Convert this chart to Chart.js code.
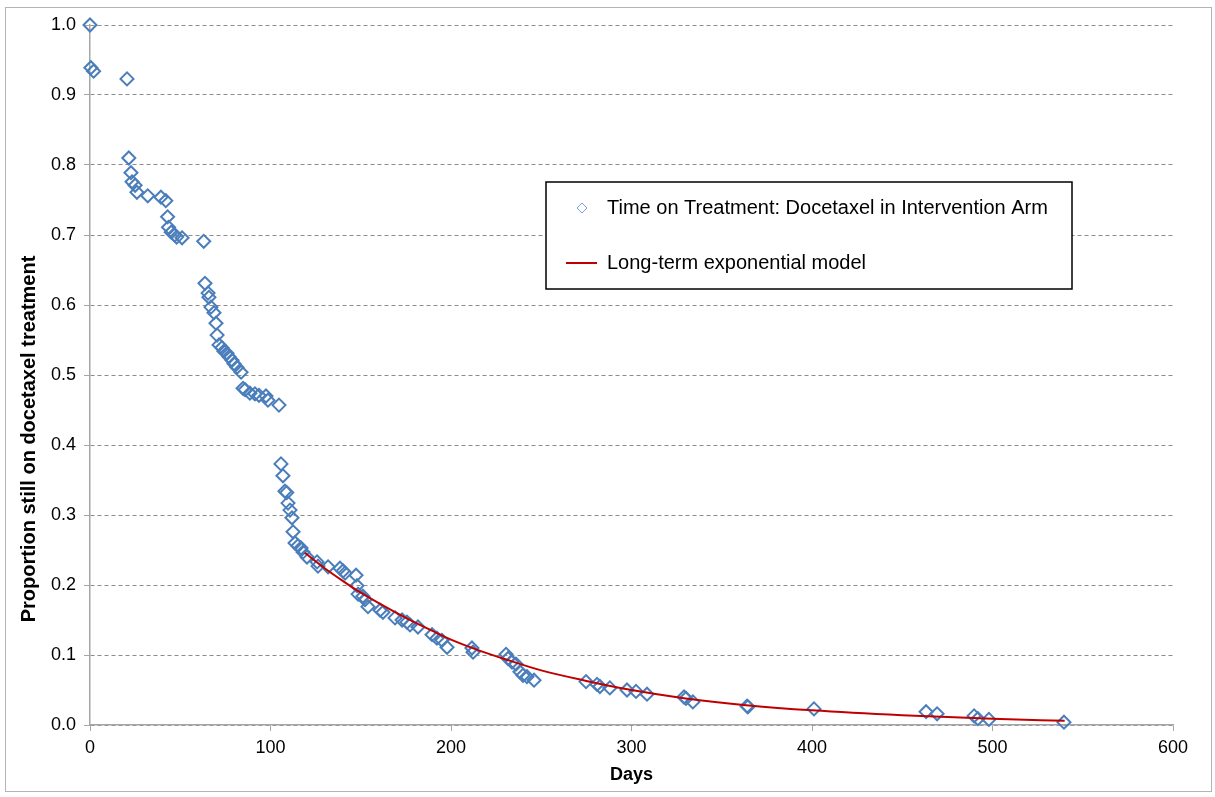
<!DOCTYPE html>
<html>
<head>
<meta charset="utf-8">
<script src="https://cdn.jsdelivr.net/npm/chart.js@4/dist/chart.umd.min.js"></script>
<style>
  html, body { margin: 0; padding: 0; background: #ffffff; }
  #wrap { width: 1215px; height: 797px; }
</style>
</head>
<body>
<div id="wrap"><canvas id="c" width="1215" height="797"></canvas></div>
<script>
// ---- Data ----
const days = [0, 0.5, 2, 20.5, 21.5, 22.7, 23.3, 25, 26, 32, 39.3, 42, 43, 43.5, 45, 47, 48, 51, 63,
  63.7, 65.4, 65.9, 67, 68.7, 69.8, 70.4, 71.5, 73.1, 74.2, 75.9, 77, 78.7, 79.8, 81.4, 83.7,
  84.8, 85.9, 88.6, 91.4, 93.6, 97.5, 98.6, 104.7,
  105.8, 106.9, 108, 109, 109.7, 110.8, 111.9, 112.5, 113.6, 115.2, 116.9, 118, 120.2, 125.8, 126.3,
  131.9, 138.5, 140.2, 141.3, 147.4, 147.9, 148.5, 151.2, 152.4, 154, 160.7, 162.3, 169, 172.9,
  175.6, 177.3, 181.7, 189.5, 192.2, 195, 197.8, 211.6, 212.2,
  230.5, 231.6, 233.8, 236, 238.2, 239.9, 242.1, 246, 274.8, 280.9, 282.5, 288, 297.5, 302.5, 308.6,
  329.1, 330.2, 334, 364, 364.5, 401.1, 463.2, 469.3, 489.8, 491.9, 498, 539.6];
const proportion = [1.000, 0.939, 0.934, 0.923, 0.810, 0.789, 0.776, 0.771, 0.761, 0.756, 0.754, 0.749, 0.726, 0.711, 0.704, 0.700, 0.697, 0.696, 0.691,
  0.631, 0.617, 0.611, 0.597, 0.589, 0.574, 0.557, 0.543, 0.539, 0.534, 0.531, 0.526, 0.521, 0.516, 0.511, 0.504,
  0.481, 0.479, 0.474, 0.473, 0.471, 0.470, 0.464, 0.457,
  0.373, 0.356, 0.334, 0.332, 0.317, 0.307, 0.296, 0.276, 0.260, 0.256, 0.253, 0.247, 0.240, 0.233, 0.227,
  0.226, 0.224, 0.220, 0.217, 0.214, 0.199, 0.187, 0.184, 0.179, 0.169, 0.164, 0.161, 0.153, 0.150,
  0.147, 0.143, 0.140, 0.129, 0.124, 0.121, 0.111, 0.110, 0.104,
  0.101, 0.095, 0.090, 0.087, 0.076, 0.071, 0.069, 0.064, 0.062, 0.058, 0.055, 0.053, 0.050, 0.048, 0.044,
  0.040, 0.038, 0.033, 0.027, 0.026, 0.023, 0.019, 0.016, 0.013, 0.009, 0.008, 0.004];

const modelDays   = [119, 130, 140, 150, 160, 175, 190, 200, 215, 230, 250, 275, 300, 330, 365, 400, 450, 500, 540];
const modelValues = [0.246, 0.224, 0.206, 0.189, 0.174, 0.153, 0.134, 0.122, 0.107, 0.094, 0.078, 0.063, 0.050, 0.038, 0.028, 0.021, 0.014, 0.009, 0.006];

const xTicks = [0, 100, 200, 300, 400, 500, 600];
const yTicks = [0.0, 0.1, 0.2, 0.3, 0.4, 0.5, 0.6, 0.7, 0.8, 0.9, 1.0];

const seriesLabel = 'Time on Treatment: Docetaxel in Intervention Arm';
const modelLabel = 'Long-term exponential model';
const xTitle = 'Days';
const yTitle = 'Proportion still on docetaxel treatment';

const FONT = '"Liberation Sans", Arial, sans-serif';

const framePlugin = {
  id: 'frame',
  beforeDraw(chart) {
    const ctx = chart.ctx;
    ctx.save();
    ctx.fillStyle = '#ffffff';
    ctx.fillRect(0, 0, chart.width, chart.height);
    ctx.strokeStyle = '#b4b4b4';
    ctx.lineWidth = 1;
    ctx.strokeRect(5.5, 7.5, 1206, 784);
    ctx.restore();
  }
};

const yTitlePlugin = {
  id: 'yTitle',
  afterDraw(chart) {
    const ctx = chart.ctx;
    ctx.save();
    ctx.translate(29, 439);
    ctx.rotate(-Math.PI / 2);
    ctx.fillStyle = '#000';
    ctx.font = 'bold 20px ' + FONT;
    ctx.textAlign = 'center';
    ctx.textBaseline = 'middle';
    ctx.fillText(yTitle, 0, 0);
    ctx.restore();
  }
};

const legendPlugin = {
  id: 'boxLegend',
  afterDraw(chart) {
    const ctx = chart.ctx;
    ctx.save();
    const bx = 546, by = 182, bw = 526, bh = 107;
    ctx.fillStyle = '#ffffff';
    ctx.fillRect(bx, by, bw, bh);
    ctx.strokeStyle = '#000000';
    ctx.lineWidth = 1.5;
    ctx.strokeRect(bx, by, bw, bh);
    const ds0 = chart.data.datasets[0];
    const ds1 = chart.data.datasets[1];
    // diamond marker
    ctx.strokeStyle = '#7ea3d4';
    ctx.lineWidth = 1;
    const mx = 582, my = 208, r = 5;
    ctx.beginPath();
    ctx.moveTo(mx - r, my); ctx.lineTo(mx, my - r); ctx.lineTo(mx + r, my); ctx.lineTo(mx, my + r); ctx.closePath();
    ctx.stroke();
    // red line
    ctx.strokeStyle = ds1.borderColor;
    ctx.lineWidth = 2;
    ctx.beginPath();
    ctx.moveTo(566, 263); ctx.lineTo(597, 263);
    ctx.stroke();
    ctx.fillStyle = '#000000';
    ctx.font = '20px ' + FONT;
    ctx.textBaseline = 'middle';
    ctx.fillText(ds0.label, 607, 208);
    ctx.fillText(ds1.label, 607, 263);
    ctx.restore();
  }
};

new Chart(document.getElementById('c'), {
  type: 'scatter',
  data: {
    datasets: [
      {
        label: seriesLabel,
        data: days.map((d, i) => ({ x: d, y: proportion[i] })),
        pointStyle: 'rectRot',
        pointRadius: 6.5,
        pointHoverRadius: 6.5,
        pointBorderWidth: 2,
        borderColor: '#4a7ebb',
        backgroundColor: 'rgba(0,0,0,0)',
        clip: false,
        order: 1
      },
      {
        label: modelLabel,
        data: modelDays.map((d, i) => ({ x: d, y: modelValues[i] })),
        showLine: true,
        pointRadius: 0,
        borderColor: '#c00000',
        borderWidth: 2,
        cubicInterpolationMode: 'monotone',
        backgroundColor: '#c00000',
        order: 0
      }
    ]
  },
  options: {
    responsive: false,
    animation: false,
    devicePixelRatio: 1,
    layout: { padding: { left: 5, right: 42, top: 25, bottom: 0 } },
    plugins: { legend: { display: false }, tooltip: { enabled: false } },
    scales: {
      x: {
        type: 'linear',
        min: 0, max: 600,
        afterBuildTicks: s => { s.ticks = xTicks.map(v => ({ value: v })); },
        afterFit: s => { s.height = 72; },
        ticks: { color: '#000', font: { family: FONT, size: 18 }, padding: 6, maxRotation: 0,
                 callback: v => String(v) },
        grid: { drawOnChartArea: false, drawTicks: true, tickLength: 6, tickColor: '#a6a6a6' },
        border: { display: true, color: '#a6a6a6', width: 1.5 },
        title: { display: true, text: xTitle, color: '#000', font: { family: FONT, size: 18, weight: 'bold' },
                 padding: { top: 2, bottom: 11 } }
      },
      y: {
        type: 'linear',
        min: 0, max: 1,
        afterBuildTicks: s => { s.ticks = yTicks.map(v => ({ value: v })); },
        afterFit: s => { s.width = 85; },
        ticks: { color: '#000', font: { family: FONT, size: 18 }, padding: 8,
                 callback: v => Number(v).toFixed(1) },
        grid: { drawOnChartArea: true, color: '#8c8c8c', lineWidth: 1, drawTicks: true, tickLength: 6,
                tickColor: '#a6a6a6', tickBorderDash: [] },
        border: { display: true, color: '#a6a6a6', width: 1.5, dash: [4, 3] },
        title: { display: false, text: yTitle }
      }
    }
  },
  plugins: [framePlugin, legendPlugin, yTitlePlugin]
});
</script>
</body>
</html>
